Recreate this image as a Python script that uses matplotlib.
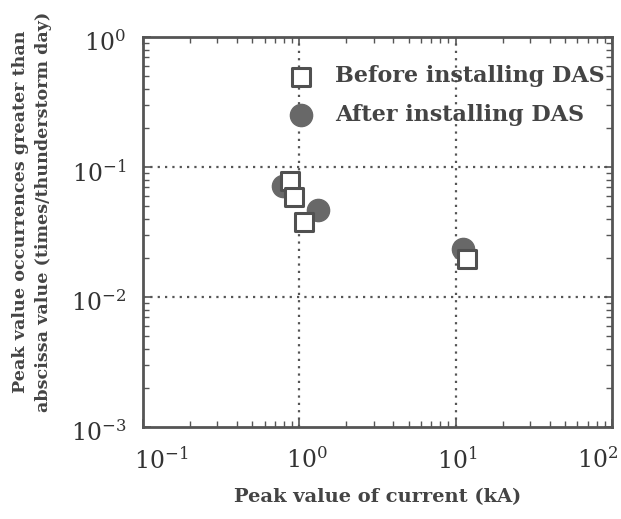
import matplotlib
matplotlib.use("Agg")
import matplotlib.pyplot as plt
import matplotlib.transforms as mtransforms
from matplotlib.ticker import LogLocator, NullFormatter

before_x = [0.875, 0.92, 1.08, 11.9]
before_y = [0.078, 0.059, 0.038, 0.0196]
after_x = [0.79, 1.32, 11.1]
after_y = [0.071, 0.047, 0.0234]
x_ticks = [0.1, 1, 10, 100]
x_tick_labels = [r'$\mathregular{10^{-1}}$', r'$\mathregular{10^{0}}$',
                 r'$\mathregular{10^{1}}$', r'$\mathregular{10^{2}}$']

plt.rcParams['font.family'] = ['DejaVu Serif']
fig = plt.figure(figsize=(6.21, 5.19), dpi=100)
ax = fig.add_axes([0.230, 0.177, 0.7555, 0.7517])
ax.set_xscale('log')
ax.set_yscale('log')
ax.set_xlim(0.1, 100)
ax.set_ylim(1e-3, 1)

ax.scatter(after_x, after_y, s=256, marker='o', color='#686868', zorder=3,
           label='After installing DAS')
ax.scatter(before_x, before_y, s=180, marker='s', facecolor='white',
           edgecolor='#505050', linewidths=2.2, zorder=4,
           label='Before installing DAS')

for v in [1, 10]:
    ax.axvline(v, color='#555555', ls=(0, (1, 2.3)), lw=1.6, zorder=1)
for v in [0.1, 0.01]:
    ax.axhline(v, color='#555555', ls=(0, (1, 2.3)), lw=1.6, zorder=1)

ax.set_xticks(x_ticks)
ax.xaxis.set_minor_locator(LogLocator(base=10, subs=range(2, 10)))
ax.yaxis.set_minor_locator(LogLocator(base=10, subs=range(2, 10)))
ax.xaxis.set_minor_formatter(NullFormatter())
ax.yaxis.set_minor_formatter(NullFormatter())
ax.tick_params(which='both', direction='in', top=True, right=True, color='#555555',
               labelcolor='#333333')
ax.tick_params(which='major', length=6, width=1.2, labelsize=17)
ax.tick_params(axis='x', which='major', labelbottom=False)
ax.tick_params(axis='y', which='major', pad=12)
ax.tick_params(which='minor', length=4, width=1.0)
for s in ax.spines.values():
    s.set_linewidth(2)
    s.set_color('#555555')

# x tick labels placed with small individual offsets as in the original
xoffs = [18, 8, 2, -14]
blend = mtransforms.blended_transform_factory(ax.transData, ax.transAxes)
for xv, lab, dx in zip(x_ticks, x_tick_labels, xoffs):
    tr = blend + mtransforms.ScaledTranslation(dx / 100, -20 / 100, fig.dpi_scale_trans)
    ax.text(xv, 0, lab, transform=tr, ha='center', va='top', fontsize=17,
            color='#333333')

ax.set_xlabel('Peak value of current (kA)', fontsize=14, fontweight='bold',
              color='#444444')
ax.xaxis.set_label_coords(0.5, -0.155)
ax.set_ylabel('Peak value occurrences greater than\nabscissa value (times/thunderstorm day)',
              fontsize=12.6, fontweight='bold', color='#444444',
              linespacing=1.45)
ax.yaxis.set_label_coords(-0.194, 0.551)

fig.canvas.draw()
for lab in ax.get_yticklabels():
    lab.set_transform(lab.get_transform() +
                      mtransforms.ScaledTranslation(0, -4 / 100, fig.dpi_scale_trans))

h, l = ax.get_legend_handles_labels()
leg = ax.legend(h[::-1], l[::-1], loc='upper left', bbox_to_anchor=(0.27, 0.95),
                frameon=False, fontsize=16, handletextpad=0.55, labelspacing=0.75,
                markerscale=1.0, borderaxespad=0)
for t in leg.get_texts():
    t.set_fontweight('bold')
    t.set_color('#444444')

fig.savefig('out.png', dpi=100)
